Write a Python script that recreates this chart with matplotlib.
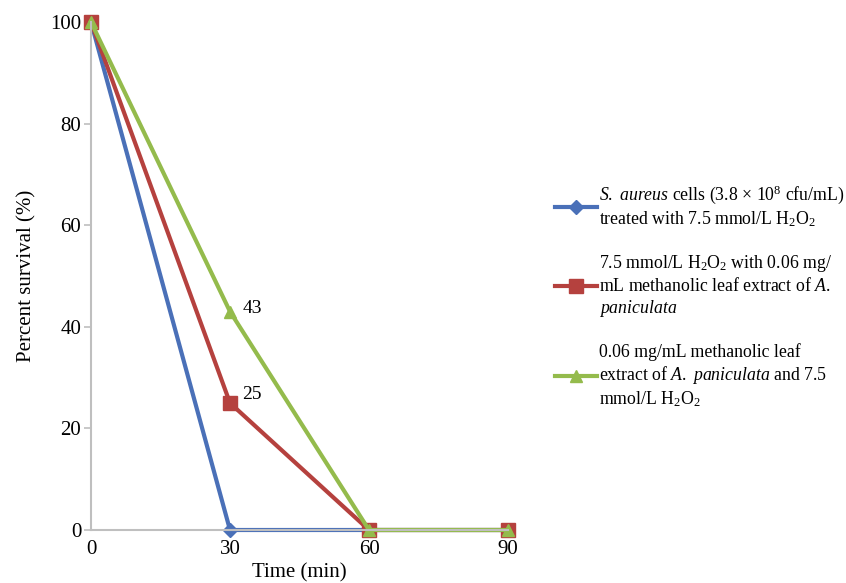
import matplotlib
matplotlib.use("Agg")
import matplotlib.pyplot as plt

plt.rcParams['font.family'] = ['Liberation Serif', 'DejaVu Serif']
plt.rcParams['mathtext.fontset'] = 'custom'
plt.rcParams['mathtext.rm'] = 'Liberation Serif'
plt.rcParams['mathtext.it'] = 'Liberation Serif:italic'

time = [0, 30, 60, 90]
h2o2_only = [100, 0, 0, 0]
h2o2_then_extract = [100, 25, 0, 0]
extract_then_h2o2 = [100, 43, 0, 0]
yticks = [0, 20, 40, 60, 80, 100]

labels = [
    "$\\it{S.}$ $\\it{aureus}$ cells (3.8 × 10$^8$ cfu/mL)\ntreated with 7.5 mmol/L H$_2$O$_2$",
    "7.5 mmol/L H$_2$O$_2$ with 0.06 mg/\nmL methanolic leaf extract of $\\it{A.}$\n$\\it{paniculata}$",
    "0.06 mg/mL methanolic leaf\nextract of $\\it{A.}$ $\\it{paniculata}$ and 7.5\nmmol/L H$_2$O$_2$",
]
colors = ['#4a70b8', '#b5413e', '#94bb4c']
markers = ['D', 's', '^']
msizes = [7, 10, 9]

fig = plt.figure(figsize=(8.46, 5.83), dpi=100)
ax = fig.add_axes([91/846, 1-530/583, (508-91)/846, (530-22)/583])

series = [h2o2_only, h2o2_then_extract, extract_then_h2o2]
handles = []
for s, c, m, ms in zip(series, colors, markers, msizes):
    ln, = ax.plot(time, s, color=c, lw=3, marker=m, markersize=ms,
                  markeredgecolor=c, clip_on=False)
    handles.append(ln)

ax.annotate("43", (time[1], extract_then_h2o2[1]), xytext=(9, 2),
            textcoords='offset points', fontsize=14, va='center', ha='left')
ax.annotate("25", (time[1], h2o2_then_extract[1]), xytext=(9, 6),
            textcoords='offset points', fontsize=14, va='center', ha='left')

ax.set_xlim(0, 90)
ax.set_ylim(0, 100)
ax.set_xticks(time)
ax.set_yticks(yticks)
ax.tick_params(axis='both', labelsize=15, colors='#000000')
ax.tick_params(axis='y', length=5, width=1.2, color='#bfbfbf', pad=2)
ax.tick_params(axis='x', length=0, pad=7)
for sp in ['top', 'right']:
    ax.spines[sp].set_visible(False)
for sp in ['left', 'bottom']:
    ax.spines[sp].set_color('#bfbfbf')
    ax.spines[sp].set_linewidth(1.5)
ax.set_ylabel("Percent survival (%)", fontsize=15, labelpad=10)
ax.set_xlabel("Time (min)", fontsize=15, labelpad=3)

leg = ax.legend(handles, labels, loc='center left', bbox_to_anchor=(1.095, 0.46),
                frameon=False, fontsize=12.8, handlelength=2.4, handletextpad=0.1,
                labelspacing=1.35, borderaxespad=0)

fig.savefig("out.png", dpi=100)
